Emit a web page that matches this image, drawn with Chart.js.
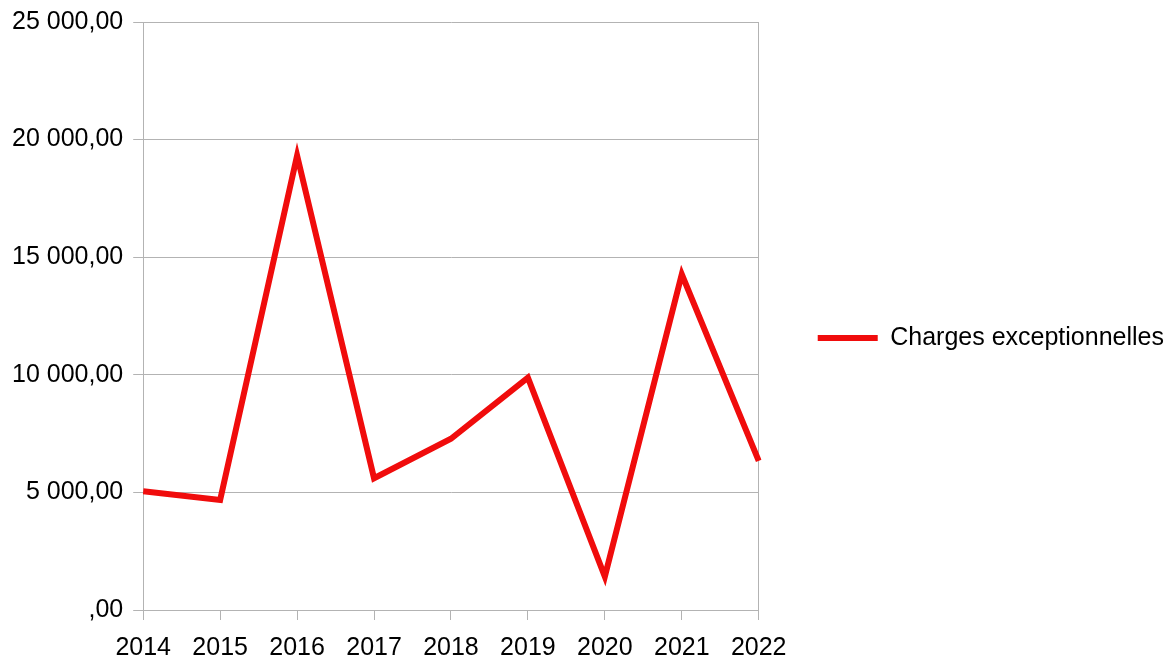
<!DOCTYPE html>
<html>
<head>
<meta charset="utf-8">
<script src="https://cdn.jsdelivr.net/npm/chart.js@4/dist/chart.umd.min.js"></script>
<style>
  html, body { margin: 0; padding: 0; background: #fff; }
  #wrap { width: 1174px; height: 658px; }
</style>
</head>
<body>
<div id="wrap"><canvas id="Chart"></canvas></div>
<script>
var years = ['2014', '2015', '2016', '2017', '2018', '2019', '2020', '2021', '2022'];
var charges = [5050, 4680, 19320, 5600, 7280, 9880, 1420, 14270, 6340];
var seriesName = 'Charges exceptionnelles';

function frNumber(v) {
  var parts = v.toFixed(2).split('.');
  var ent = parts[0] === '0' ? '' : parts[0].replace(/\B(?=(\d{3})+(?!\d))/g, ' ');
  return ent + ',' + parts[1];
}

var gridGray = '#b3b3b3';
var red = '#f00c0c';
var fontFam = '"Liberation Sans", Arial, sans-serif';

var ctx = document.getElementById('Chart').getContext('2d');
var lineGraph = new Chart(ctx, {
  type: 'line',
  data: {
    labels: years,
    datasets: [{
      label: seriesName,
      data: charges,
      borderColor: red,
      backgroundColor: red,
      borderWidth: 6,
      pointRadius: 0,
      tension: 0,
      fill: false
    }]
  },
  options: {
    responsive: true,
    maintainAspectRatio: false,
    animation: false,
    layout: { padding: { left: 2, top: -1, right: 0, bottom: -19 } },
    plugins: {
      tooltip: { enabled: false },
      legend: {
        position: 'right',
        align: 'center',
        maxWidth: 500,
        labels: {
          boxWidth: 60,
          boxHeight: 6,
          color: '#000',
          padding: 59,
          font: { family: fontFam, size: 25 },
          generateLabels: function(chart) {
            var items = Chart.defaults.plugins.legend.labels.generateLabels(chart);
            items.forEach(function(it) { it.lineWidth = 0; });
            return items;
          }
        }
      }
    },
    scales: {
      x: {
        offset: false,
        border: { color: gridGray, width: 1 },
        grid: {
          color: function(c) {
            return (c.index === 0 || c.index === years.length - 1) ? gridGray : 'rgba(0,0,0,0)';
          },
          tickColor: gridGray,
          tickLength: 10
        },
        ticks: {
          color: '#000',
          padding: 17.5,
          maxRotation: 0,
          font: { family: fontFam, size: 25, lineHeight: 0.88 }
        }
      },
      y: {
        min: 0,
        max: 25000,
        border: { color: gridGray, width: 1 },
        grid: { color: gridGray, tickColor: gridGray, tickLength: 10 },
        ticks: {
          stepSize: 5000,
          color: '#000',
          padding: 10,
          font: { family: fontFam, size: 25, lineHeight: 0.96 },
          callback: function(v) { return frNumber(v); }
        }
      }
    }
  }
});
</script>
</body>
</html>
